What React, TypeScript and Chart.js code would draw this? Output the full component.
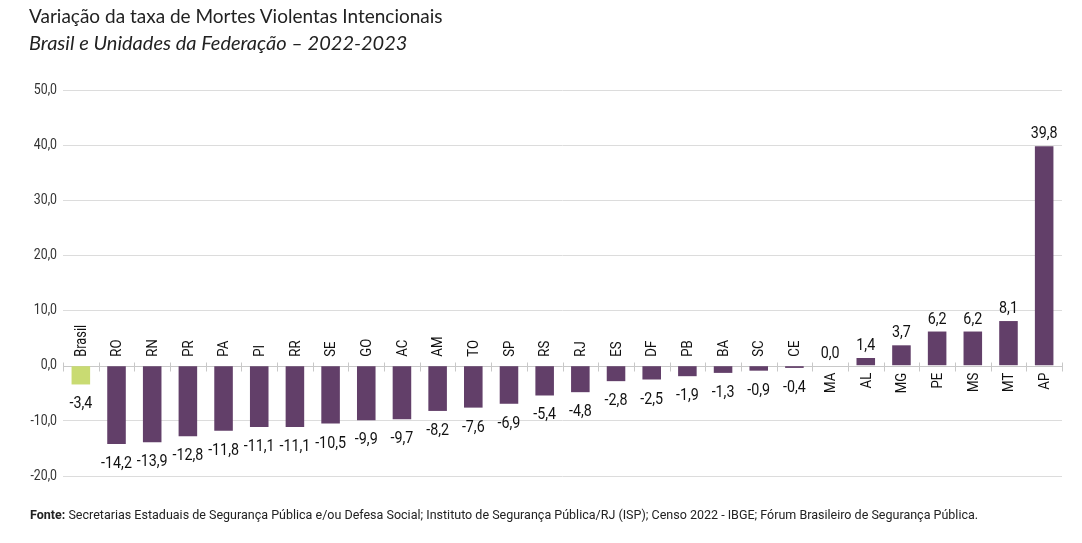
import React, { useEffect, useRef } from "react";
import { Chart, registerables } from "chart.js";

Chart.register(...registerables);

const categories = ["Brasil", "RO", "RN", "PR", "PA", "PI", "RR", "SE", "GO", "AC", "AM", "TO", "SP", "RS", "RJ", "ES", "DF", "PB", "BA", "SC", "CE", "MA", "AL", "MG", "PE", "MS", "MT", "AP"];
const values = [-3.4, -14.2, -13.9, -12.8, -11.8, -11.1, -11.1, -10.5, -9.9, -9.7, -8.2, -7.6, -6.9, -5.4, -4.8, -2.8, -2.5, -1.9, -1.3, -0.9, -0.4, 0.0, 1.4, 3.7, 6.2, 6.2, 8.1, 39.8];
const yTicks = [-20, -10, 0, 10, 20, 30, 40, 50];

const TITLE = "Variação da taxa de Mortes Violentas Intencionais";
const SUBTITLE = "Brasil e Unidades da Federação – 2022-2023";
const SOURCE_LABEL = "Fonte:";
const SOURCE = " Secretarias Estaduais de Segurança Pública e/ou Defesa Social; Instituto de Segurança Pública/RJ (ISP); Censo 2022 - IBGE; Fórum Brasileiro de Segurança Pública.";

const PURPLE = "#623f69";
const GREEN = "#c9db72";
const FONT = "Roboto, 'Liberation Sans', sans-serif";

const fmt = (v: number) => v.toFixed(1).replace(".", ",");

function condensedText(ctx: CanvasRenderingContext2D, text: string, x: number, y: number, sx: number, rotate = 0) {
  ctx.save();
  ctx.translate(x, y);
  if (rotate) ctx.rotate(rotate);
  ctx.scale(sx, 1);
  ctx.fillText(text, 0, 0);
  ctx.restore();
}

const labelsPlugin = {
  id: "customLabels",
  beforeDatasetsDraw(chart: any) {
    const { ctx, chartArea, scales } = chart;
    const y0 = Math.round(scales.y.getPixelForValue(0)) + 0.5;
    const n = categories.length;
    const w = (chartArea.right - chartArea.left) / n;
    ctx.save();
    ctx.strokeStyle = "#c8c8c8";
    ctx.lineWidth = 1;
    ctx.beginPath();
    ctx.moveTo(chartArea.left, y0);
    ctx.lineTo(chartArea.right, y0);
    for (let i = 0; i <= n; i++) {
      const x = Math.round(chartArea.left + i * w) + 0.5;
      ctx.moveTo(x, y0 - 4);
      ctx.lineTo(x, y0 + 5);
    }
    ctx.stroke();
    ctx.fillStyle = "#333333";
    ctx.font = `15px ${FONT}`;
    ctx.textAlign = "right";
    ctx.textBaseline = "middle";
    yTicks.forEach((v) => {
      condensedText(ctx, fmt(v), chartArea.left - 6, scales.y.getPixelForValue(v), 0.82);
    });
    ctx.restore();
  },
  afterDatasetsDraw(chart: any) {
    const { ctx, scales } = chart;
    const meta = chart.getDatasetMeta(0);
    const y0 = scales.y.getPixelForValue(0);
    ctx.save();
    ctx.fillStyle = "#111111";
    meta.data.forEach((bar: any, i: number) => {
      const v = values[i];
      ctx.font = `17px ${FONT}`;
      ctx.textAlign = "center";
      ctx.textBaseline = "alphabetic";
      if (v < 0) {
        condensedText(ctx, fmt(v), bar.x, bar.y + 24, 0.84);
      } else {
        condensedText(ctx, fmt(v), bar.x, bar.y - 8, 0.84);
      }
      const isBr = categories[i] === "Brasil";
      ctx.font = isBr ? `16px ${FONT}` : `15px ${FONT}`;
      ctx.textBaseline = "middle";
      ctx.textAlign = v < 0 ? "left" : "right";
      condensedText(ctx, categories[i], bar.x + 1, v < 0 ? y0 - 9 : y0 + 7, isBr ? 0.8 : 0.88, -Math.PI / 2);
    });
    ctx.restore();
  },
};

export default function App() {
  const ref = useRef<HTMLCanvasElement>(null);
  const footRef = useRef<HTMLDivElement>(null);
  useEffect(() => {
    if (footRef.current) {
      const wNat = footRef.current.scrollWidth;
      footRef.current.style.transform = `scaleX(${948 / wNat})`;
    }
    if (!ref.current) return;
    const chart = new Chart(ref.current, {
      type: "bar",
      data: {
        labels: categories,
        datasets: [
          {
            data: values,
            backgroundColor: categories.map((c) => (c === "Brasil" ? GREEN : PURPLE)),
            barPercentage: 0.52,
            categoryPercentage: 1,
          },
        ],
      },
      options: {
        responsive: false,
        animation: false,
        layout: { padding: { top: 90, bottom: 67, left: 8, right: 20 } },
        plugins: { legend: { display: false }, tooltip: { enabled: false }, title: { display: false } },
        scales: {
          x: { display: false },
          y: {
            min: -20,
            max: 50,
            afterBuildTicks: (s: any) => {
              s.ticks = yTicks.map((v) => ({ value: v }));
            },
            afterFit: (s: any) => {
              s.width = 55;
            },
            border: { display: false },
            grid: {
              drawTicks: false,
              color: (c: any) => (c.tick && c.tick.value === 0 ? "rgba(0,0,0,0)" : "#dcdcdc"),
              lineWidth: 1,
            },
            ticks: { display: false },
          },
        },
      },
      plugins: [labelsPlugin],
    });
    return () => chart.destroy();
  }, []);

  return (
    <div style={{ position: "absolute", left: 0, top: 0, width: 1082, height: 543, background: "#fff", overflow: "hidden" }}>
      <canvas ref={ref} width={1082} height={543} style={{ position: "absolute", left: 0, top: 0 }} />
      <div style={{ position: "absolute", left: 29, top: 4, fontFamily: "Lato, sans-serif", fontSize: 19, color: "#222", whiteSpace: "nowrap" }}>{TITLE}</div>
      <div style={{ position: "absolute", left: 29, top: 30, fontFamily: "Lato, sans-serif", fontStyle: "italic", fontSize: 20, color: "#222", whiteSpace: "nowrap" }}>{SUBTITLE}</div>
      <div
        ref={footRef}
        style={{ position: "absolute", left: 30, top: 507, fontFamily: FONT, fontSize: 13, color: "#222", whiteSpace: "nowrap", transformOrigin: "0 0", display: "inline-block" }}
      >
        <b>{SOURCE_LABEL}</b>
        {SOURCE}
      </div>
    </div>
  );
}
